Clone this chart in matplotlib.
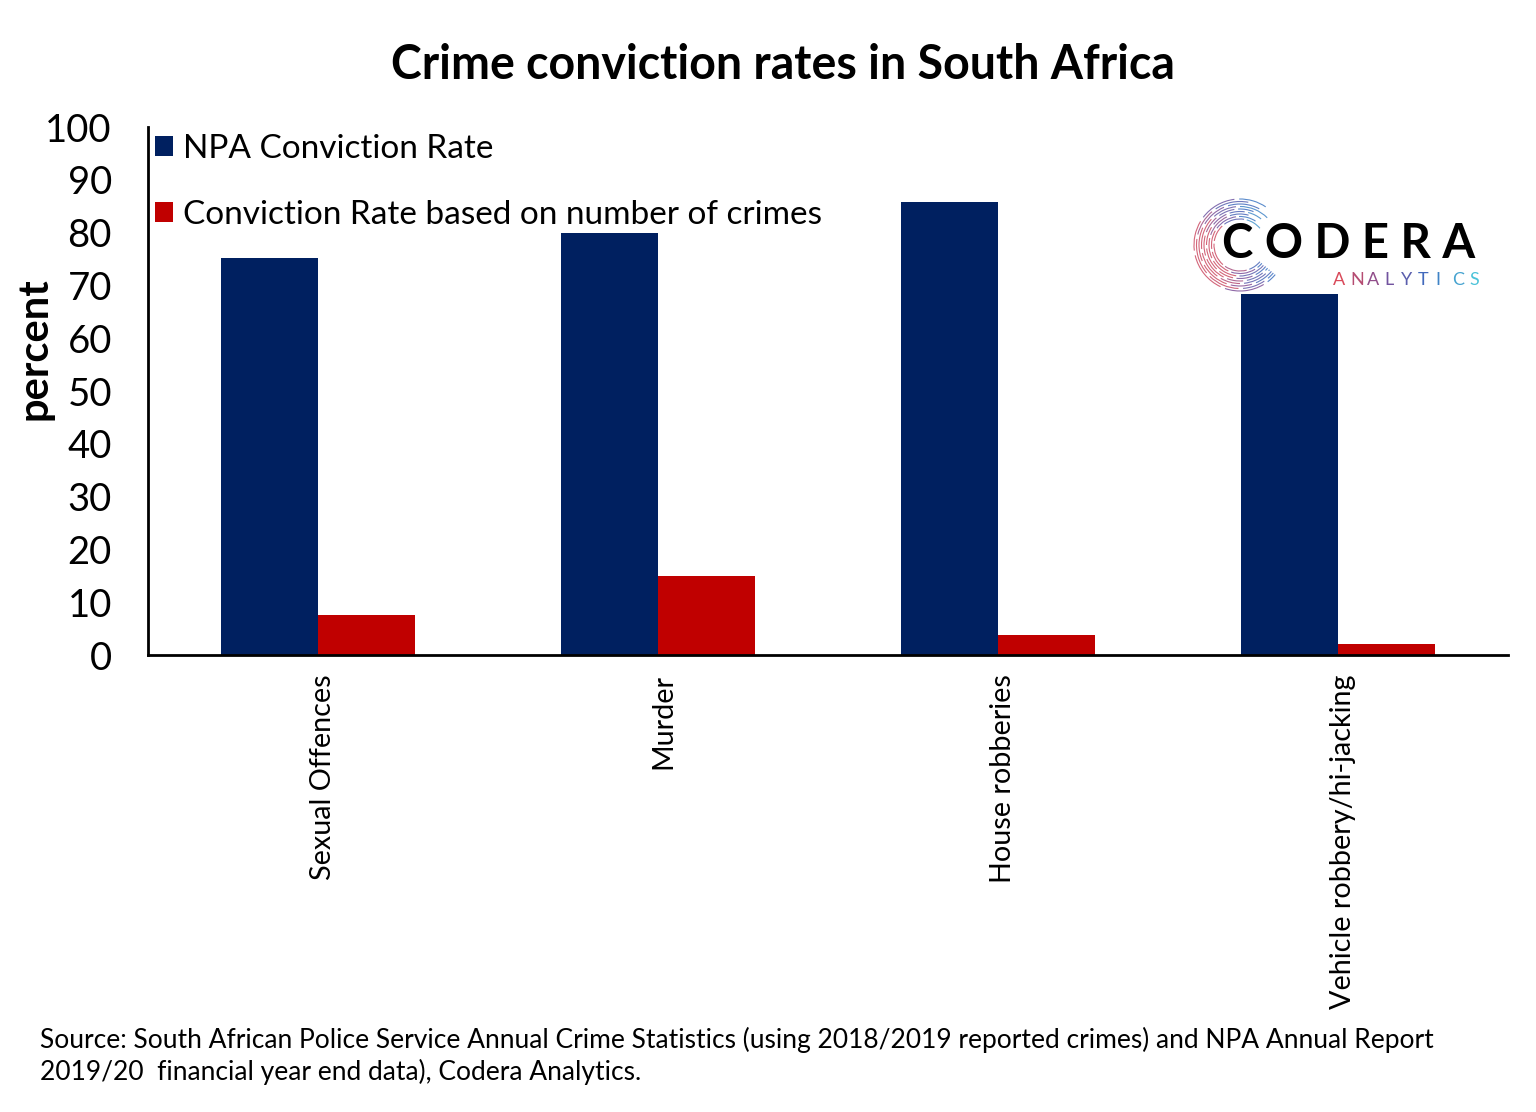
import numpy as np
import matplotlib as mpl
mpl.use('Agg')
import matplotlib.pyplot as plt
from matplotlib.patches import Arc

plt.rcParams['font.family'] = ['Lato', 'DejaVu Sans']

categories = ["Sexual Offences", "Murder", "House robberies", "Vehicle robbery/hi-jacking"]
npa_rate = [75.1, 80.0, 85.8, 68.4]
crime_rate = [7.6, 15.0, 3.8, 2.1]

blue = "#002060"
red = "#c00000"

fig = plt.figure(figsize=(15.36, 11.12), dpi=100)
ax = fig.add_axes([148/1536, 1-655/1112, 1360/1536, 528/1112])

x = np.arange(len(categories))
w = 0.285
ax.bar(x - w/2, npa_rate, w, color=blue, label="NPA Conviction Rate")
ax.bar(x + w/2, crime_rate, w, color=red, label="Conviction Rate based on number of crimes")

ax.set_xlim(-0.5, len(categories) - 0.5)
ax.set_ylim(0, 100)
ax.set_yticks(range(0, 101, 10))
ax.set_xticks(x + 0.015)
ax.set_xticklabels(categories, rotation=90, fontsize=20.7)
ax.tick_params(axis='y', labelsize=27.5, length=0, pad=26)
ax.tick_params(axis='x', length=0, pad=14)
for s in ['top', 'right']:
	ax.spines[s].set_visible(False)
for s in ['left', 'bottom']:
	ax.spines[s].set_linewidth(2)
	ax.spines[s].set_color('black')

fig.text(35/1536, 1-349/1112, "percent", rotation=90, ha='center', va='center',
		fontsize=30, fontweight='bold')

leg = ax.legend(loc='upper left', bbox_to_anchor=(0.0, 1.0), frameon=False,
		fontsize=24, handlelength=0.55, handleheight=0.55, handletextpad=0.3,
		labelspacing=1.08, borderaxespad=0.0, borderpad=0.2)

fig.text(0.510, 1-65/1112, "Crime conviction rates in South Africa", ha='center', va='center',
		fontsize=33.5, fontweight='bold')

fig.text(40/1536, 1-1056/1112,
		"Source: South African Police Service Annual Crime Statistics (using 2018/2019 reported crimes) and NPA Annual Report\n"
		"2019/20  financial year end data), Codera Analytics.",
		ha='left', va='center', fontsize=19, linespacing=1.25)

# logo
fig.text(1222/1536, 1-244/1112, "C O D E R A", ha='left', va='center', fontsize=34,
		fontweight='bold', color='black')
letters = "ANALYTICS"
cmap = mpl.colors.LinearSegmentedColormap.from_list("codera", ["#d94a5a", "#7a4f9a", "#3b6cc0", "#4cc3d9"])
for i, ch in enumerate(letters):
	fig.text((1333 + i*17.0)/1536, 1-280/1112, ch, ha='left', va='center', fontsize=13,
			color=cmap(i/(len(letters)-1)))

lax = fig.add_axes([1190/1536, 1-295/1112, 100/1536, 100/1112])
lax.set_aspect('equal')
lax.set_xlim(0, 100)
lax.set_ylim(0, 100)
lax.axis('off')
ring = np.linspace(26, 46, 9)
for k, r in enumerate(ring):
	a = 40 + (k * 17) % 40
	while a < 320:
		span = 25 + (k * 13 + a) % 30
		a1 = min(a + span, 320)
		mid = (a + a1) / 2
		if mid < 150:
			c = cmap(1 - (mid - 30) / 150)
		elif mid < 240:
			c = cmap(0.05)
		else:
			c = cmap((mid - 240) / 110)
		lax.add_patch(Arc((50, 50), 2*r, 2*r, theta1=a, theta2=a1, color=c, lw=0.8, alpha=0.85))
		a = a1 + 6

fig.savefig("out.png", dpi=100)
